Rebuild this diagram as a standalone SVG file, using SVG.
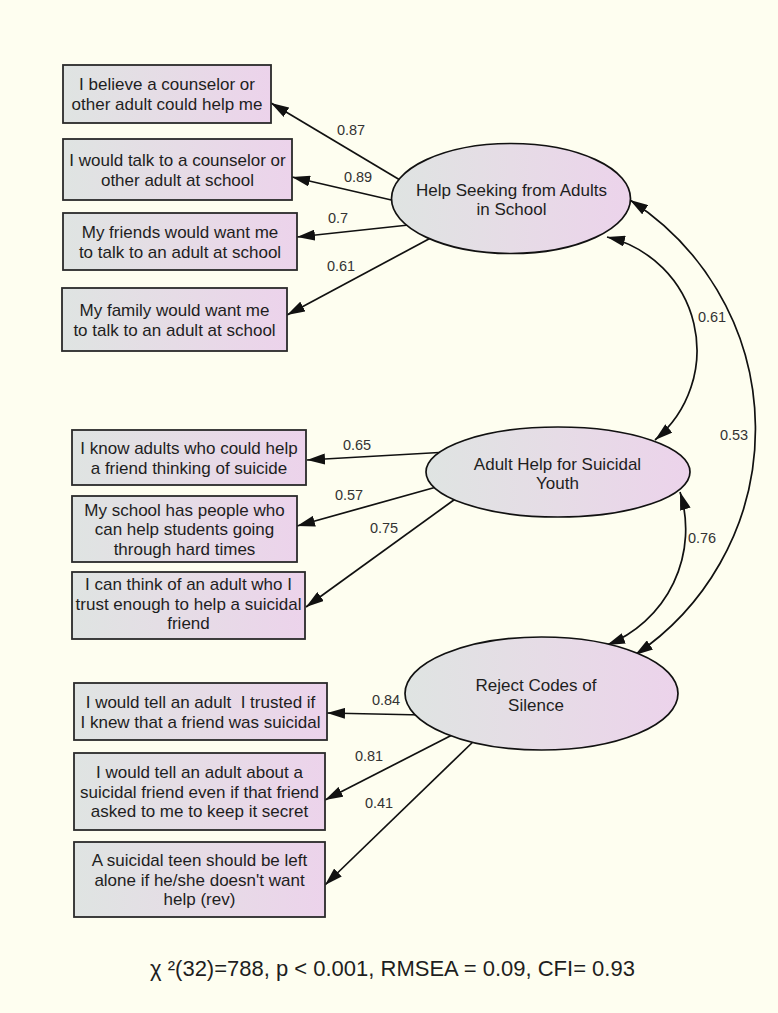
<svg xmlns="http://www.w3.org/2000/svg" width="778" height="1013" viewBox="0 0 778 1013">
<style>
.box{fill:url(#grad);stroke:#2a2a2a;stroke-width:1.8}
.lat{fill:url(#grad);stroke:#111;stroke-width:1.7}
.t{font-family:"Liberation Sans",Arial,sans-serif;font-size:17px;fill:#1e1e1e;text-anchor:middle}
.lbl{font-family:"Liberation Sans",Arial,sans-serif;font-size:14.5px;fill:#333;text-anchor:middle}
.foot{font-family:"Liberation Sans",Arial,sans-serif;font-size:22px;fill:#1e1e1e;text-anchor:middle}
.ln{fill:none;stroke:#111;stroke-width:1.7;marker-end:url(#ah)}
.cv{fill:none;stroke:#111;stroke-width:1.7;marker-start:url(#ahs);marker-end:url(#ah)}
</style>
<defs>
<linearGradient id="grad" x1="0" y1="0" x2="1" y2="0">
<stop offset="0" stop-color="#dfe4e2"/>
<stop offset="0.5" stop-color="#e6dce6"/>
<stop offset="1" stop-color="#ecd3eb"/>
</linearGradient>
<marker id="ah" viewBox="0 0 18 11" refX="18" refY="5.5" markerWidth="18" markerHeight="11" markerUnits="userSpaceOnUse" orient="auto">
<path d="M0,0 L18,5.5 L0,11 z" fill="#111"/>
</marker>
<marker id="ahs" viewBox="0 0 18 11" refX="18" refY="5.5" markerWidth="18" markerHeight="11" markerUnits="userSpaceOnUse" orient="auto-start-reverse">
<path d="M0,0 L18,5.5 L0,11 z" fill="#111"/>
</marker>
</defs>
<rect x="0" y="0" width="778" height="1013" fill="#fefef0"/>

<g id="connectors">
<line class="ln" x1="405" y1="183" x2="271" y2="103"/>
<line class="ln" x1="400" y1="202" x2="292" y2="177"/>
<line class="ln" x1="418" y1="224" x2="297" y2="237"/>
<line class="ln" x1="440" y1="233" x2="287" y2="315"/>
<line class="ln" x1="448" y1="452" x2="307" y2="460"/>
<line class="ln" x1="440" y1="486" x2="297" y2="526"/>
<line class="ln" x1="458" y1="497" x2="306" y2="607"/>
<line class="ln" x1="423" y1="715" x2="327" y2="713"/>
<line class="ln" x1="456" y1="733" x2="325" y2="800"/>
<line class="ln" x1="477" y1="738" x2="325" y2="885"/>
<path class="cv" d="M607,237 A116.5,116.5 0 0 1 655,440"/>
<path class="cv" d="M630,200 A272,272 0 0 1 635,655"/>
<path class="cv" d="M680,492 A124.5,124.5 0 0 1 607,645"/>
<text class="lbl" x="351" y="135">0.87</text>
<text class="lbl" x="358" y="182">0.89</text>
<text class="lbl" x="338" y="223">0.7</text>
<text class="lbl" x="341" y="271">0.61</text>
<text class="lbl" x="357" y="450">0.65</text>
<text class="lbl" x="349" y="500">0.57</text>
<text class="lbl" x="384" y="533">0.75</text>
<text class="lbl" x="386" y="705">0.84</text>
<text class="lbl" x="369" y="761">0.81</text>
<text class="lbl" x="379" y="808">0.41</text>
<text class="lbl" x="712" y="322">0.61</text>
<text class="lbl" x="734" y="440">0.53</text>
<text class="lbl" x="702" y="543">0.76</text>
</g>

<g id="latent-help-seeking">
<ellipse class="lat" cx="511" cy="198.5" rx="119.5" ry="55"/>
<text class="t" x="511.5" y="196">Help Seeking from Adults</text>
<text class="t" x="511.5" y="215">in School</text>
</g>
<g id="latent-adult-help">
<ellipse class="lat" cx="558" cy="472" rx="132" ry="45"/>
<text class="t" x="557.5" y="470">Adult Help for Suicidal</text>
<text class="t" x="557.5" y="489">Youth</text>
</g>
<g id="latent-reject-codes">
<ellipse class="lat" cx="541.5" cy="693.5" rx="136.5" ry="56.5"/>
<text class="t" x="536" y="691">Reject Codes of</text>
<text class="t" x="536" y="711">Silence</text>
</g>

<g id="item1">
<rect class="box" x="63" y="65" width="208" height="58"/>
<text class="t" x="167" y="90">I believe a counselor or</text>
<text class="t" x="167" y="109.5">other adult could help me</text>
</g>
<g id="item2">
<rect class="box" x="63" y="139" width="229" height="61"/>
<text class="t" x="177.5" y="166">I would talk to a counselor or</text>
<text class="t" x="177.5" y="185.5">other adult at school</text>
</g>
<g id="item3">
<rect class="box" x="63" y="213" width="234" height="57"/>
<text class="t" x="180" y="238">My friends would want me</text>
<text class="t" x="180" y="257.5">to talk to an adult at school</text>
</g>
<g id="item4">
<rect class="box" x="62" y="288" width="225" height="63"/>
<text class="t" x="174.5" y="316">My family would want me</text>
<text class="t" x="174.5" y="335.5">to talk to an adult at school</text>
</g>
<g id="item5">
<rect class="box" x="72" y="430" width="234" height="55"/>
<text class="t" x="189" y="454">I know adults who could help</text>
<text class="t" x="189" y="473.5">a friend thinking of suicide</text>
</g>
<g id="item6">
<rect class="box" x="72" y="496" width="225" height="66"/>
<text class="t" x="184.5" y="515.5">My school has people who</text>
<text class="t" x="184.5" y="535">can help students going</text>
<text class="t" x="184.5" y="554.5">through hard times</text>
</g>
<g id="item7">
<rect class="box" x="72" y="572" width="233" height="67"/>
<text class="t" x="188.5" y="590">I can think of an adult who I</text>
<text class="t" x="188.5" y="609.5">trust enough to help a suicidal</text>
<text class="t" x="188.5" y="629">friend</text>
</g>
<g id="item8">
<rect class="box" x="74" y="683" width="253" height="57"/>
<text class="t" x="200.5" y="708" xml:space="preserve">I would tell an adult  I trusted if</text>
<text class="t" x="200.5" y="727.5">I knew that a friend was suicidal</text>
</g>
<g id="item9">
<rect class="box" x="74" y="753" width="251" height="77"/>
<text class="t" x="199.5" y="778">I would tell an adult about a</text>
<text class="t" x="199.5" y="797.5">suicidal friend even if that friend</text>
<text class="t" x="199.5" y="817">asked to me to keep it secret</text>
</g>
<g id="item10">
<rect class="box" x="74" y="842" width="251" height="75"/>
<text class="t" x="199.5" y="866">A suicidal teen should be left</text>
<text class="t" x="199.5" y="885.5">alone if he/she doesn't want</text>
<text class="t" x="199.5" y="905">help (rev)</text>
</g>

<text class="foot" x="392.5" y="976" xml:space="preserve">χ ²(32)=788, p &lt; 0.001, RMSEA = 0.09, CFI= 0.93</text>
</svg>
